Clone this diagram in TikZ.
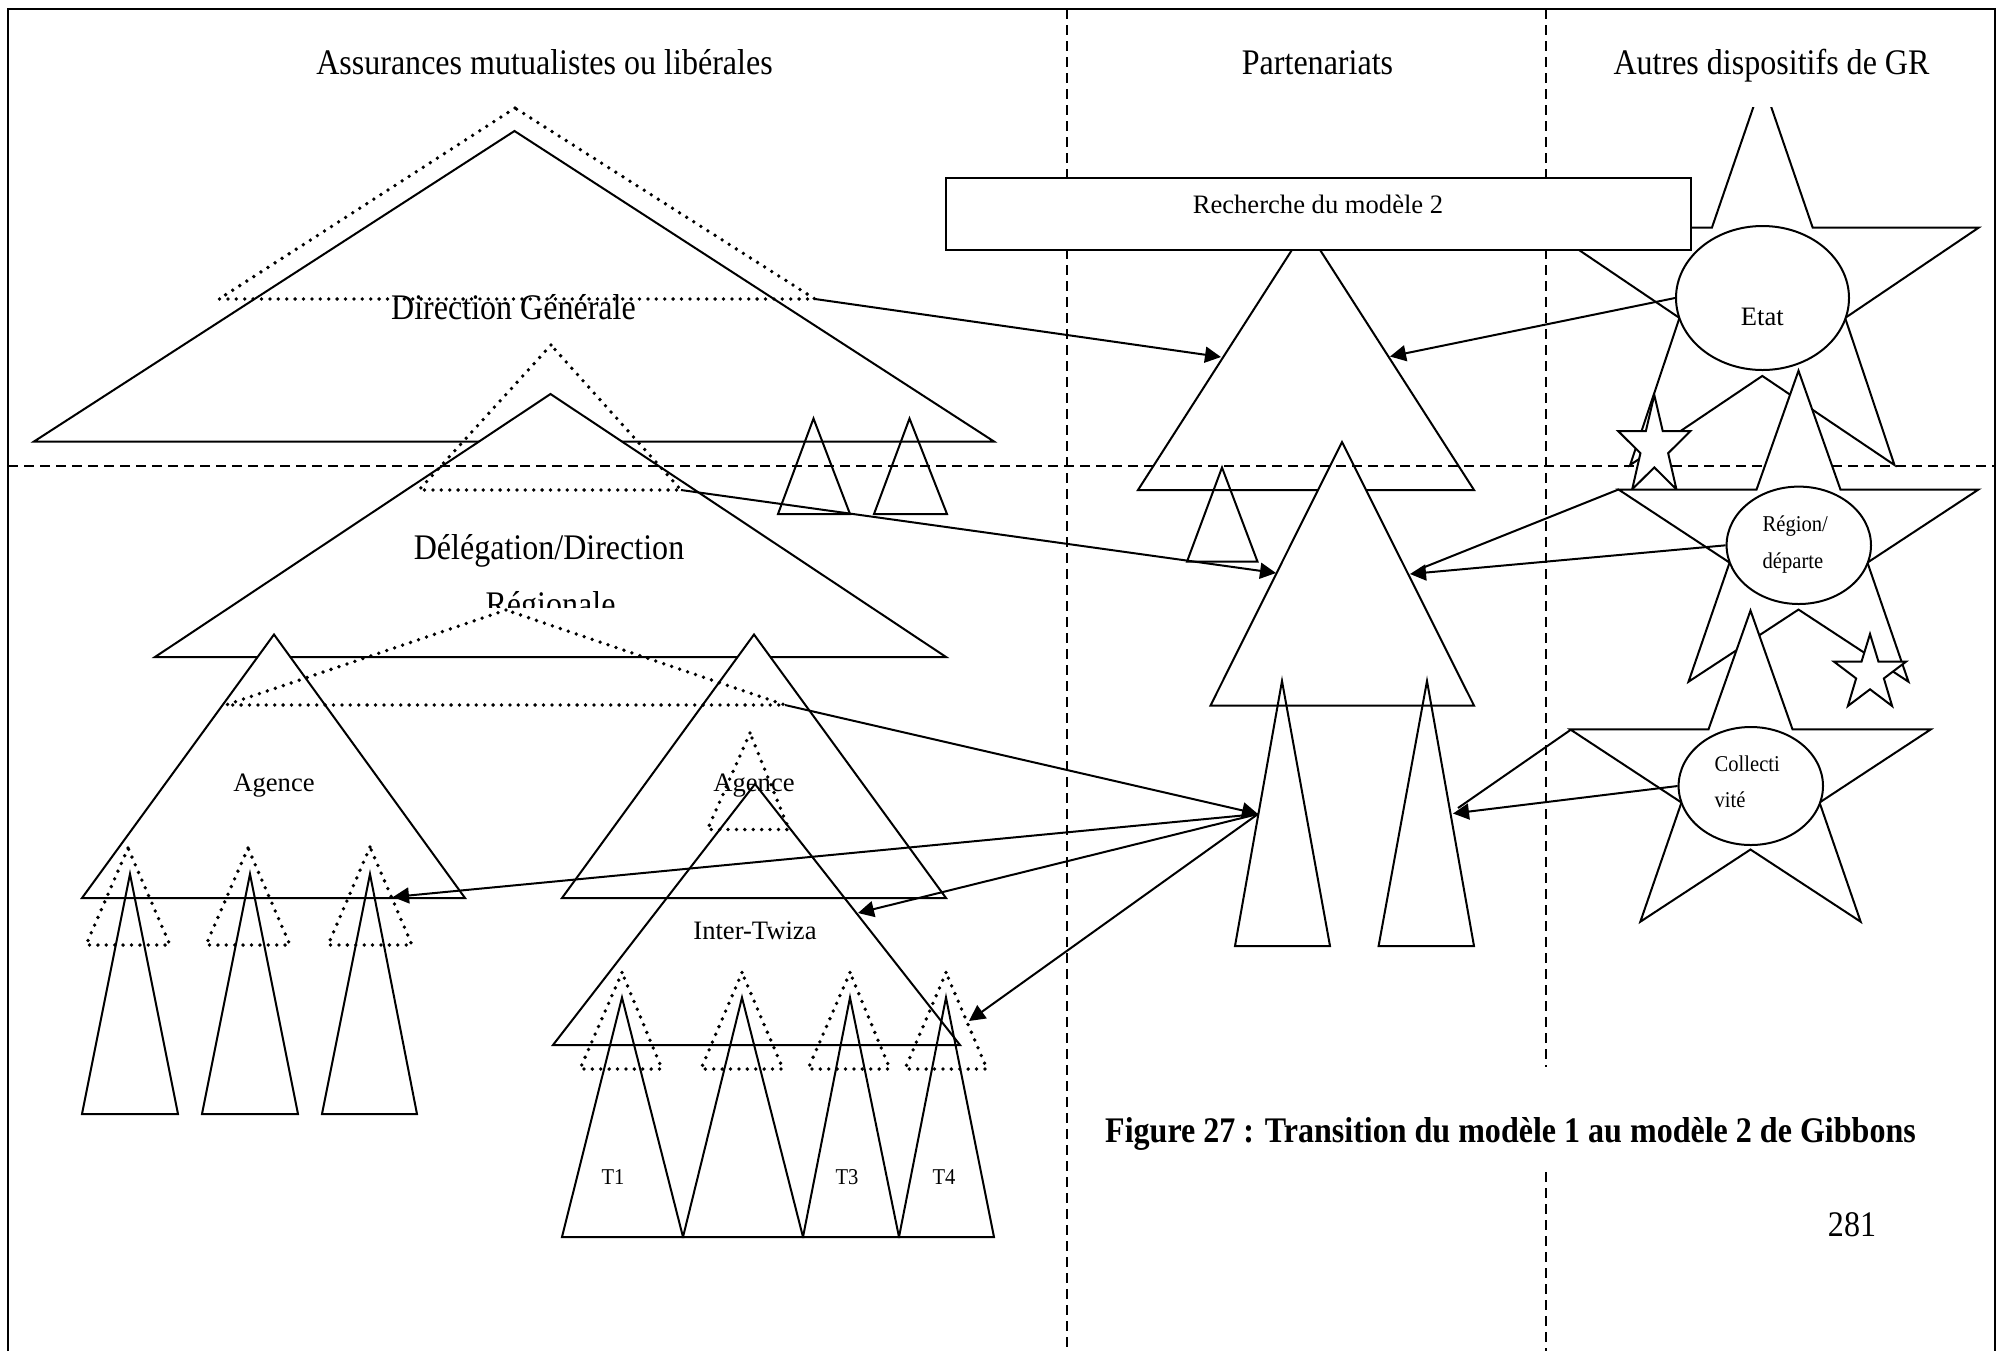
\documentclass[tikz,border=0pt]{standalone}
\usepackage{fontspec}
\setmainfont{Liberation Serif}
\usepackage{graphicx}
\usetikzlibrary{arrows.meta,shapes.geometric}

% text sizes (slightly condensed serif)
\newcommand\lgtxt[1]{\scalebox{0.89}[1]{\fontsize{18}{21}\selectfont #1}}
\newcommand\mdtxt[1]{{\fontsize{13.3}{16}\selectfont #1}}
\newcommand\smtxt[1]{\scalebox{0.91}[1]{\fontsize{11.3}{13}\selectfont #1}}

% five-pointed star: style, centre x, top y, half width, height
\newcommand\drawstar[5]{%
  \draw[#1] (#2,#3) -- ({#2+0.233*#4},{#3+0.382*#5}) -- ({#2+#4},{#3+0.382*#5})
    -- ({#2+0.383*#4},{#3+0.617*#5}) -- ({#2+0.611*#4},{#3+#5}) -- (#2,{#3+0.768*#5})
    -- ({#2-0.611*#4},{#3+#5}) -- ({#2-0.383*#4},{#3+0.617*#5}) -- ({#2-#4},{#3+0.382*#5})
    -- ({#2-0.233*#4},{#3+0.382*#5}) -- cycle;}

\tikzset{
  frameln/.style={line width=1.2pt},
  solidln/.style={line width=1pt},
  dotln/.style={line width=1.9pt, dash pattern=on 0pt off 4.2pt, line cap=round},
  dashln/.style={line width=1pt, dash pattern=on 5pt off 3pt},
  arr/.style={line width=1pt, -{Triangle[length=8pt,width=8pt]}},
  lbl/.style={inner sep=0pt, anchor=base},
}

\begin{document}
\begin{tikzpicture}[x=0.5pt,y=-0.5pt]
\useasboundingbox (0,0) rectangle (2015,1351);

% outer frame
\draw[frameln] (8,1351) -- (8,9) -- (1995,9) -- (1995,1351);

% column headings
\node[lbl] (h1) at (544.5,74) {\lgtxt{Assurances mutualistes ou libérales}};
\node[lbl] (h2) at (1317.5,74) {\lgtxt{Partenariats}};
\node[lbl] (h3) at (1771.5,74) {\lgtxt{Autres dispositifs de GR}};

% ---- Direction Générale
\draw[solidln] (514.5,131) -- (34,441.5) -- (994,441.5) -- cycle;
\draw[dotln] (515,108) -- (219,299) coordinate (dgd-l) -- (815,299) coordinate (dgd-r) -- cycle;
\draw[solidln] (813.5,418.5) -- (778,514) -- (850,514) -- cycle;
\draw[solidln] (909.5,418.5) -- (874,514) -- (947,514) -- cycle;
\node[lbl] (dg) at (513.5,319) {\lgtxt{Direction Générale}};

% ---- Délégation / Direction Régionale
\draw[solidln, fill=white] (550.5,394) -- (155,657) -- (946,657) -- cycle;
\draw[dotln] (551,345) -- (419,490) -- (681,490) coordinate (delg-r) -- cycle;
\node[lbl] (dr1) at (549,559.5) {\lgtxt{Délégation/Direction}};
\begin{scope}
  \clip (380,570) rectangle (720,607);
  \node[lbl] (dr2) at (550.5,616) {\lgtxt{Régionale}};
\end{scope}

% ---- Agences
\draw[solidln, fill=white] (274,634.5) -- (82,898) -- (465,898) -- cycle;
\draw[solidln, fill=white] (754,634.5) -- (562,898) -- (946,898) -- cycle;
\draw[dotln] (506,610) -- (226,705) -- (785,705) coordinate (agd-r) -- cycle;
\node[lbl] (ag1) at (274,791) {\mdtxt{Agence}};
\node[lbl] (ag2) at (754,791) {\mdtxt{Agence}};
\draw[dotln] (750,733) -- (707.5,829.5) -- (789,829.5) -- cycle;

% ---- Inter-Twiza
\draw[solidln] (755,784) -- (553,1045) -- (960,1045) -- cycle;
\node[lbl] (tw) at (755,939) {\mdtxt{Inter-Twiza}};

% units under the left Agence
\draw[solidln] (130,874) -- (82,1114) -- (178,1114) -- cycle;
\draw[solidln] (250,874) -- (202,1114) -- (298,1114) -- cycle;
\draw[solidln] (370,874) -- (322,1114) -- (417,1114) -- cycle;
\draw[dotln] (128,848) -- (86,945) -- (170,945) -- cycle;
\draw[dotln] (248,848) -- (206,945) -- (290,945) -- cycle;
\draw[dotln] (370,847) -- (328,945) -- (412,945) -- cycle;

% Twiza units T1..T4
\draw[solidln] (622,997.5) -- (562,1237) -- (683,1237) -- cycle;
\draw[solidln] (742,997.5) -- (683,1237) -- (803,1237) -- cycle;
\draw[solidln] (850,997.5) -- (803,1237) -- (899,1237) -- cycle;
\draw[solidln] (946,997.5) -- (899,1237) -- (994,1237) -- cycle;
\draw[dotln] (622,972.5) -- (580,1069) -- (662,1069) -- cycle;
\draw[dotln] (742,972.5) -- (701,1069) -- (783,1069) -- cycle;
\draw[dotln] (850,972.5) -- (808,1069) -- (890,1069) -- cycle;
\draw[dotln] (946,972.5) -- (905,1069) -- (987,1069) -- cycle;
\node[lbl] (t1) at (613,1184) {\smtxt{T1}};
\node[lbl] (t3) at (847,1184) {\smtxt{T3}};
\node[lbl] (t4) at (944,1184) {\smtxt{T4}};

% ---- Partenariats
\draw[solidln] (1306,228) -- (1138,490) -- (1474,490) -- cycle;
\draw[solidln] (1222,467.5) -- (1187,561.6) -- (1257.5,561.6) -- cycle;
\draw[solidln, fill=white] (1342,442) -- (1210.5,705.5) -- (1474,705.5) -- cycle;
\draw[solidln] (1282,681) -- (1235,946) -- (1330,946) -- cycle;
\draw[solidln] (1427,681) -- (1378.6,946) -- (1474,946) -- cycle;

% ---- separators
\draw[dashln] (8,466) -- (1995,466);
\draw[dashln] (1066.5,9) -- (1066.5,1351);
\draw[dashln] (1546,9) -- (1546,1067);
\draw[dashln] (1546,1172) -- (1546,1351);

% ---- Etat
\begin{scope}
  \clip (1400,107) rectangle (2010,600);
  \drawstar{solidln}{1762.3}{81}{216.3}{384}
\end{scope}
\node[draw, solidln, fill=white, minimum width=372.25pt, minimum height=36pt, inner sep=0pt] (rech) at (1318.25,214) {};
\node[lbl] (rech-t) at (1318,213.5) {\mdtxt{Recherche du modèle 2}};
\node[draw, ellipse, solidln, fill=white, minimum width=86.5pt, minimum height=72pt, inner sep=0pt] (etat) at (1762.5,298) {};
\node[lbl] (etat-t) at (1762.3,325) {\mdtxt{Etat}};

% ---- Région / département
\drawstar{solidln, fill=white}{1654.3}{395}{36.2}{94.3}
\drawstar{solidln, fill=white}{1798.5}{370.7}{180}{311}
\node[draw, ellipse, solidln, fill=white, minimum width=72.2pt, minimum height=58.7pt, inner sep=0pt] (reg) at (1798.8,545.3) {};
\node[lbl, anchor=base west] (reg-t1) at (1762.3,531.7) {\smtxt{Région/}};
\node[lbl, anchor=base west] (reg-t2) at (1762.3,568) {\smtxt{départe}};
\coordinate (reg-tip) at (1619,489.3);

% ---- Collectivité
\drawstar{solidln, fill=white}{1750.5}{610.5}{180.3}{311.2}
\drawstar{solidln, fill=white}{1870}{634}{36.2}{72}
\node[draw, ellipse, solidln, fill=white, minimum width=72.2pt, minimum height=59pt, inner sep=0pt] (col) at (1750.8,786) {};
\node[lbl, anchor=base west] (col-t1) at (1714.3,771.7) {\smtxt{Collecti}};
\node[lbl, anchor=base west] (col-t2) at (1714.3,807.7) {\smtxt{vité}};
\coordinate (col-tip) at (1570.4,730);

% ---- caption and page number
\node[lbl] (cap) at (1510.5,1142) {\lgtxt{\bfseries Figure 27 : Transition du modèle 1 au modèle 2 de Gibbons}};
\node[lbl] (pg) at (1852,1236) {\lgtxt{281}};

% ---- connector end points
\coordinate (ptop-l) at (1221,357);
\coordinate (ptop-r) at (1390,356.5);
\coordinate (pmid-l) at (1276,573);
\coordinate (pmid-r) at (1410,574);
\coordinate (pmid-r2) at (1421,568.5);
\coordinate (ptl-l) at (1258,814);
\coordinate (ag-l-r) at (393,897);
\coordinate (tw-r) at (858,913);
\coordinate (t4d-r) at (969,1021);
\coordinate (ptr-r) at (1453,813.5);
\coordinate (ptr-r2) at (1458,808);

% ---- connectors
\draw[arr] (dgd-r) -- (ptop-l);
\draw[arr] (etat.west) -- (ptop-r);
\draw[arr] (delg-r) -- (pmid-l);
\draw[arr] (reg.west) -- (pmid-r);
\draw[solidln] (reg-tip) -- (pmid-r2);
\draw[arr] (agd-r) -- (ptl-l);
\draw[arr] (ptl-l) -- (ag-l-r);
\draw[arr] (ptl-l) -- (tw-r);
\draw[arr] (ptl-l) -- (t4d-r);
\draw[arr] (col.west) -- (ptr-r);
\draw[solidln] (col-tip) -- (ptr-r2);

\end{tikzpicture}
\end{document}
